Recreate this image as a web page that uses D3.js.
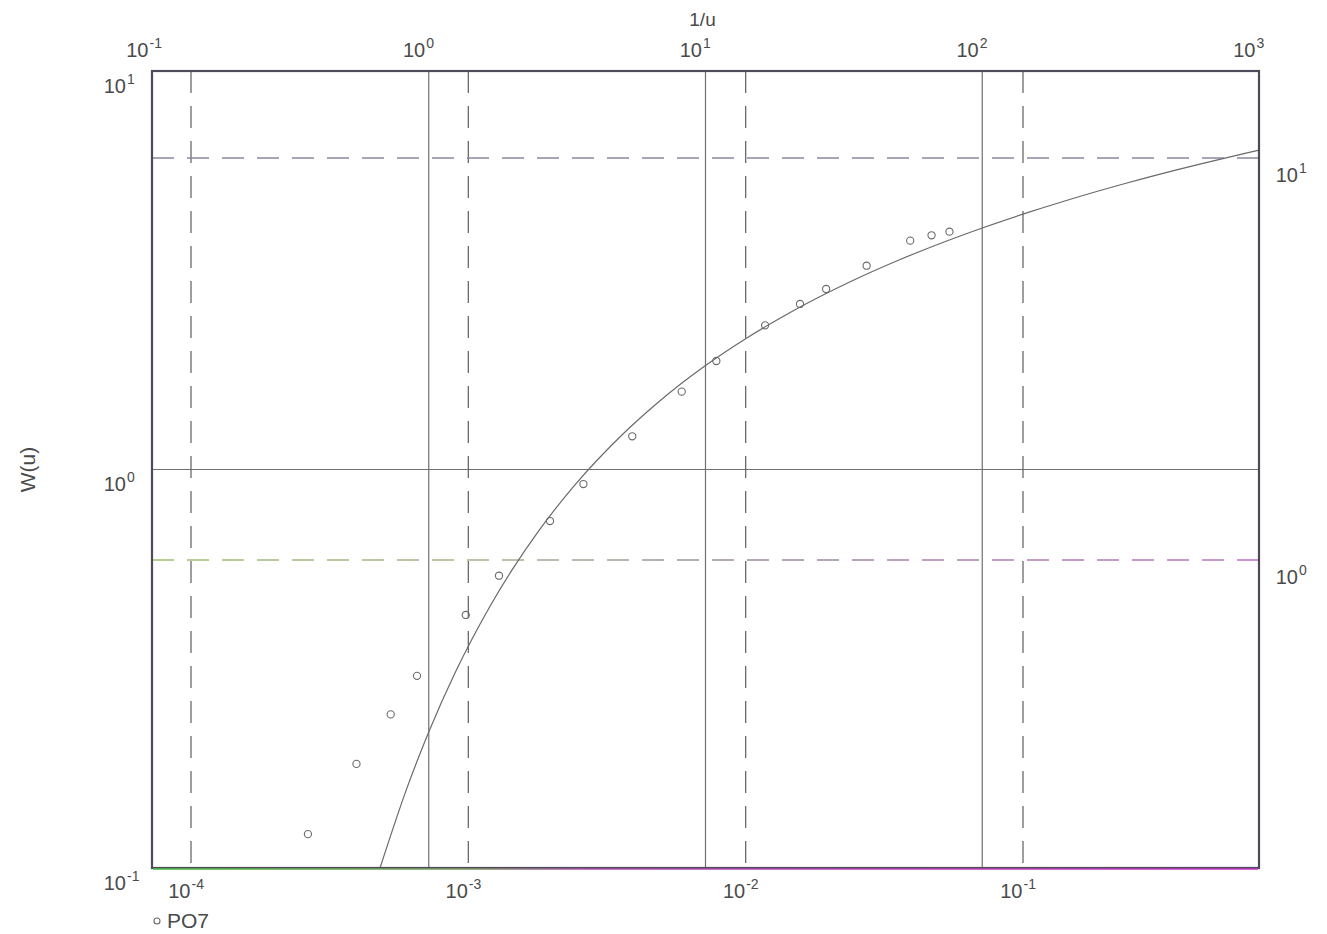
<!DOCTYPE html>
<html>
<head>
<meta charset="utf-8">
<script src="https://cdn.jsdelivr.net/npm/d3@7"></script>
<style>
  html, body { margin: 0; padding: 0; background: #ffffff; }
  svg { display: block; font-family: "Liberation Sans", Arial, sans-serif; }
</style>
</head>
<body>
<svg id="chart" width="1327" height="934"></svg>
<script>
// Theis type curve: 1/u against the well function W(u)
const typeInvU = [0.6667, 0.8333, 1, 1.25, 1.667, 2, 2.5, 3.333, 5, 6.667, 10, 14.29, 20, 33.33, 50, 100, 142.9, 200, 333.3, 500, 1000];
const typeWu   = [0.1000, 0.1584, 0.2194, 0.3106, 0.4544, 0.5598, 0.7024, 0.9057, 1.2227, 1.4645, 1.8229, 2.1508, 2.4679, 2.9591, 3.3547, 4.0379, 4.3916, 4.7261, 5.2349, 5.6394, 6.3315];

// Observation well PO7: time and drawdown
const seriesName = "PO7";
const obsTime = [2.64e-4, 3.95e-4, 5.25e-4, 6.53e-4, 9.79e-4, 1.29e-3, 1.97e-3, 2.60e-3, 3.90e-3, 5.88e-3, 7.84e-3, 1.175e-2, 1.57e-2, 1.95e-2, 2.73e-2, 3.92e-2, 4.68e-2, 5.43e-2];
const obsDrawdown = [0.208, 0.311, 0.413, 0.515, 0.730, 0.914, 1.250, 1.545, 2.031, 2.623, 3.126, 3.835, 4.334, 4.722, 5.396, 6.228, 6.423, 6.557];

// Tick decades for each axis
const topTicks = [0.1, 1, 10, 100, 1000];
const leftTicks = [0.1, 1, 10];
const bottomTicks = [1e-4, 1e-3, 1e-2, 1e-1];
const rightTicks = [1, 10];
const topTitle = "1/u";
const leftTitle = "W(u)";

const svg = d3.select("#chart");
const margin = { left: 152, top: 71, right: 68, bottom: 66 };
const W = 1327 - margin.left - margin.right;
const H = 934 - margin.top - margin.bottom;
const g = svg.append("g").attr("transform", `translate(${margin.left},${margin.top})`);

// Type-curve scales (top / left)
const xType = d3.scaleLog().domain([0.1, 1000]).range([0, W]);
const yType = d3.scaleLog().domain([0.1, 10]).range([H, 0]);
// Field-data scales (bottom / right), shifted by the match point
const xData = d3.scaleLog().domain([1e-4, 1e-1]).range([39, 871]);
const yData = d3.scaleLog().domain([1, 10]).range([489, 87]);

const textColor = "#4a4a4a";
const defs = svg.append("defs");

const gBottom = defs.append("linearGradient").attr("id", "gradBottom")
  .attr("gradientUnits", "userSpaceOnUse").attr("x1", 0).attr("x2", W).attr("y1", 0).attr("y2", 0);
gBottom.append("stop").attr("offset", "0%").attr("stop-color", "#4cc048");
gBottom.append("stop").attr("offset", "28%").attr("stop-color", "#80a060");
gBottom.append("stop").attr("offset", "40%").attr("stop-color", "#b050b0");
gBottom.append("stop").attr("offset", "100%").attr("stop-color", "#c838c8");

const gMid = defs.append("linearGradient").attr("id", "gradMid")
  .attr("gradientUnits", "userSpaceOnUse").attr("x1", 0).attr("x2", W).attr("y1", 0).attr("y2", 0);
gMid.append("stop").attr("offset", "0%").attr("stop-color", "#9cc070");
gMid.append("stop").attr("offset", "30%").attr("stop-color", "#a8b090");
gMid.append("stop").attr("offset", "55%").attr("stop-color", "#9a8a9a");
gMid.append("stop").attr("offset", "100%").attr("stop-color", "#c070c8");

// Solid grid lines on the type-curve decades
g.selectAll("line.vsolid").data(topTicks.slice(1, -1)).join("line")
  .attr("x1", d => xType(d)).attr("x2", d => xType(d))
  .attr("y1", 0).attr("y2", H)
  .attr("stroke", "#707070").attr("stroke-width", 1.2);
g.append("line")
  .attr("x1", 0).attr("x2", W).attr("y1", yType(1)).attr("y2", yType(1))
  .attr("stroke", "#707070").attr("stroke-width", 1.2);

// Dashed grid lines on the field-data decades
g.selectAll("line.vdash").data(bottomTicks).join("line")
  .attr("x1", d => xData(d)).attr("x2", d => xData(d))
  .attr("y1", 0).attr("y2", H)
  .attr("stroke", "#6a6a6a").attr("stroke-width", 1.3)
  .attr("stroke-dasharray", "22,13");
g.append("line")
  .attr("x1", 0).attr("x2", W).attr("y1", yData(10)).attr("y2", yData(10))
  .attr("stroke", "#8a88a0").attr("stroke-width", 1.3)
  .attr("stroke-dasharray", "22,13");
g.append("line")
  .attr("x1", 0).attr("x2", W).attr("y1", yData(1)).attr("y2", yData(1))
  .attr("stroke", "url(#gradMid)").attr("stroke-width", 1.5)
  .attr("stroke-dasharray", "22,13");

// Type curve
const line = d3.line()
  .x(d => xType(d[0])).y(d => yType(d[1]))
  .curve(d3.curveMonotoneX);
g.append("path")
  .datum(d3.zip(typeInvU, typeWu))
  .attr("d", line)
  .attr("fill", "none").attr("stroke", "#6a6a6a").attr("stroke-width", 1.2);

// Observed drawdown points
g.selectAll("circle.obs").data(d3.zip(obsTime, obsDrawdown)).join("circle")
  .attr("cx", d => xData(d[0])).attr("cy", d => yData(d[1]))
  .attr("r", 3.6)
  .attr("fill", "none").attr("stroke", "#6a6a6a").attr("stroke-width", 1.1);

// Frame
g.append("rect").attr("x", 0).attr("y", 0).attr("width", W).attr("height", H)
  .attr("fill", "none").attr("stroke", "#4e4a5a").attr("stroke-width", 2.2);
g.append("line").attr("x1", 1).attr("x2", W - 1).attr("y1", H).attr("y2", H)
  .attr("stroke", "url(#gradBottom)").attr("stroke-width", 1.6)
  .attr("transform", "translate(0,1)");

// Power-of-ten labels: base "10" ends at anchor, exponent follows as superscript
function powerLabels(sel, dx, dy) {
  sel.each(function (d) {
    const t = d3.select(this);
    t.selectAll("text").remove();
    const exp = Math.round(Math.log10(d));
    t.append("text")
      .attr("x", dx).attr("y", dy)
      .attr("text-anchor", "end")
      .attr("fill", textColor).attr("font-size", 20)
      .text("10");
    t.append("text")
      .attr("x", dx + 1).attr("y", dy - 9)
      .attr("text-anchor", "start")
      .attr("fill", textColor).attr("font-size", 14)
      .text(exp < 0 ? "-" + Math.abs(exp) : String(exp));
  });
}

function decadeAxis(axis, ticks) {
  return axis.tickValues(ticks).tickSize(0).tickFormat(() => "");
}

const axTop = g.append("g").call(decadeAxis(d3.axisTop(xType), topTicks));
axTop.select(".domain").remove();
powerLabels(axTop.selectAll(".tick"), -4, -14);

const axLeft = g.append("g").call(decadeAxis(d3.axisLeft(yType), leftTicks));
axLeft.select(".domain").remove();
powerLabels(axLeft.selectAll(".tick"), -26, 21);

const axBottom = g.append("g").attr("transform", `translate(0,${H})`)
  .call(decadeAxis(d3.axisBottom(xData), bottomTicks));
axBottom.select(".domain").remove();
powerLabels(axBottom.selectAll(".tick"), -1, 30);

const axRight = g.append("g").attr("transform", `translate(${W},0)`)
  .call(decadeAxis(d3.axisRight(yData), rightTicks));
axRight.select(".domain").remove();
powerLabels(axRight.selectAll(".tick"), 39, 23);

// Axis titles
svg.append("text")
  .attr("x", margin.left + xType(10) - 3).attr("y", 26)
  .attr("text-anchor", "middle")
  .attr("fill", textColor).attr("font-size", 19)
  .text(topTitle);
svg.append("text")
  .attr("transform", `translate(35,${margin.top + yType(1)}) rotate(-90)`)
  .attr("text-anchor", "middle")
  .attr("fill", textColor).attr("font-size", 21)
  .text(leftTitle);

// Legend
const legend = svg.append("g").attr("transform", "translate(157,921)");
legend.append("circle").attr("r", 3).attr("fill", "none")
  .attr("stroke", "#6a6a6a").attr("stroke-width", 1.1);
legend.append("text").attr("x", 10).attr("y", 7)
  .attr("fill", textColor).attr("font-size", 21)
  .text(seriesName);
</script>
</body>
</html>
